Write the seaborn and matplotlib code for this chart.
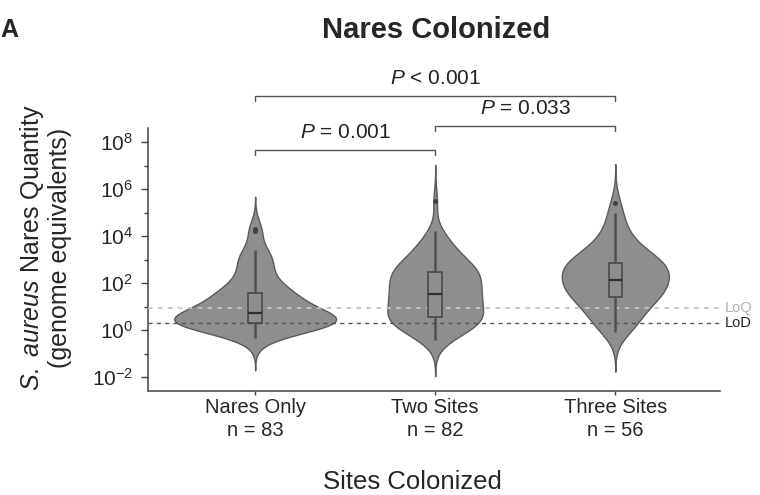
import numpy as np
import pandas as pd
import matplotlib
matplotlib.use("Agg")
import matplotlib.pyplot as plt
import matplotlib.transforms as mtransforms
import seaborn as sns

# log10 genome equivalents
nares_only = [-0.34, -0.25, -0.15, -0.05, 0.05, 0.1, 0.15, 0.18, 0.2, 0.22, 0.24,
              0.25, 0.26, 0.27, 0.28, 0.28, 0.29, 0.3, 0.3, 0.3, 0.3,
              0.31, 0.32, 0.33, 0.34, 0.35, 0.36, 0.38, 0.4, 0.42, 0.44, 0.47,
              0.5, 0.53, 0.56, 0.6, 0.63, 0.66, 0.68, 0.7, 0.72, 0.72,
              0.76, 0.8, 0.85, 0.9, 0.95, 1.0, 1.05, 1.1, 1.15, 1.2, 1.25,
              1.3, 1.35, 1.4, 1.45, 1.5, 1.53, 1.55, 1.57, 1.57, 1.58,
              1.7, 1.8, 1.9, 2.0, 2.1, 2.2, 2.3, 2.45, 2.55, 2.7,
              2.85, 2.95, 3.05, 3.15, 3.25, 3.35, 3.4, 4.2, 4.25, 4.3]
two_sites = [-0.43, -0.35, -0.25, -0.15, -0.08, 0.0, 0.06, 0.12, 0.18, 0.22, 0.26,
             0.3, 0.33, 0.36, 0.4, 0.43, 0.46, 0.49, 0.51, 0.53, 0.55,
             0.6, 0.66, 0.72, 0.78, 0.84, 0.9, 0.95, 1.0, 1.05, 1.1,
             1.15, 1.2, 1.25, 1.3, 1.34, 1.38, 1.42, 1.46, 1.5, 1.53,
             1.55, 1.6, 1.66, 1.72, 1.78, 1.84, 1.9, 1.95, 2.0, 2.05, 2.1,
             2.15, 2.2, 2.25, 2.3, 2.34, 2.38, 2.42, 2.45, 2.47, 2.5,
             2.52, 2.58, 2.64, 2.7, 2.76, 2.82, 2.88, 2.95, 3.02, 3.1,
             3.18, 3.26, 3.35, 3.45, 3.55, 3.7, 3.85, 4.0, 4.2, 5.5]
three_sites = [-0.1, 0.0, 0.15, 0.28, 0.4, 0.5, 0.62, 0.75, 0.88, 1.0, 1.1, 1.2, 1.3, 1.36,
               1.4, 1.45, 1.5, 1.56, 1.62, 1.68, 1.75, 1.82, 1.9, 1.97, 2.03, 2.07, 2.1, 2.1,
               2.14, 2.22, 2.3, 2.4, 2.5, 2.58, 2.65, 2.7, 2.74, 2.77, 2.8, 2.82, 2.84, 2.85,
               2.92, 3.0, 3.1, 3.2, 3.3, 3.42, 3.55, 3.7, 3.85, 4.0, 4.3, 4.6, 5.0, 5.4]

groups = ["Nares Only", "Two Sites", "Three Sites"]
tick_labels = ["Nares Only\nn = 83", "Two Sites\nn = 82", "Three Sites\nn = 56"]
loq, lod = 9.0, 2.0
comparisons = [(0, 2, "P < 0.001"), (1, 2, "P = 0.033"), (0, 1, "P = 0.001")]

df = pd.DataFrame({
    "group": [groups[0]] * len(nares_only) + [groups[1]] * len(two_sites) + [groups[2]] * len(three_sites),
    "quantity": 10 ** np.array(nares_only + two_sites + three_sites),
})

sns.set_style("ticks")
plt.rcParams["font.family"] = ["Liberation Sans", "DejaVu Sans"]
plt.rcParams["mathtext.fontset"] = "custom"
plt.rcParams["mathtext.it"] = "Liberation Sans:italic"
plt.rcParams["mathtext.rm"] = "Liberation Sans"
plt.rcParams["axes.unicode_minus"] = False

fig = plt.figure(figsize=(7.6, 4.95), dpi=100)
ax = fig.add_axes([0.195, 0.21, 0.752, 0.531])

fill = "#8e8e8e"
edge = "#5a5a5a"
sns.violinplot(data=df, x="group", y="quantity", order=groups, log_scale=True,
               inner=None, color=fill, linecolor=edge, linewidth=1.0, cut=3,
               width=0.9, saturation=1, ax=ax, zorder=2)

ax.axhline(loq, color="#c4c4c4", ls=(0, (2.5, 3)), lw=1.3, zorder=3)
ax.axhline(lod, color="#555555", ls=(0, (3, 3)), lw=1.0, zorder=3)

sns.boxplot(data=df, x="group", y="quantity", order=groups, log_scale=True,
            width=0.075, color=fill, linecolor="#444444", linewidth=1.1,
            saturation=1, showcaps=False, fliersize=2.5,
            whiskerprops={"linewidth": 1.8, "color": "#505050"},
            medianprops={"linewidth": 1.6, "color": "#303030"},
            flierprops={"marker": "o", "markerfacecolor": "#404040",
                        "markeredgecolor": "#404040"},
            ax=ax, zorder=4)

ax.set_yscale("log")
ax.set_ylim(10 ** -2.6, 10 ** 8.6)
ax.set_xlim(-0.594, 2.58)
ax.set_yticks([1e-2, 1e0, 1e2, 1e4, 1e6, 1e8])
ax.yaxis.set_minor_locator(matplotlib.ticker.FixedLocator([1e-1, 1e1, 1e3, 1e5, 1e7]))
ax.yaxis.set_minor_formatter(matplotlib.ticker.NullFormatter())
ax.set_xticks(range(3))
ax.set_xticklabels(tick_labels, fontsize=14.5, linespacing=1.3)
ax.tick_params(axis="y", labelsize=15, length=5, width=1, color="#444444", pad=6)
ax.tick_params(axis="y", which="minor", length=3, width=1, color="#444444")
ax.tick_params(axis="x", length=3, width=1, color="#444444", pad=2)
for side in ["left", "bottom"]:
    ax.spines[side].set_color("#444444")
    ax.spines[side].set_linewidth(1.1)
sns.despine(ax=ax)

ax.set_xlabel("Sites Colonized", fontsize=18.5)
ax.xaxis.set_label_coords(0.463, -0.345)
ax.xaxis.label.set_va("center")
ax.set_ylabel("$\\it{S.\\ aureus}$ Nares Quantity\n(genome equivalents)",
              fontsize=18, linespacing=1.1)
ax.yaxis.set_label_coords(-0.133, 0.545)

trans = mtransforms.blended_transform_factory(ax.transAxes, ax.transData)
ax.text(1.008, loq, "LoQ", transform=trans, color="#b0b0b0", fontsize=10.5, va="center")
ax.text(1.008, lod, "LoD", transform=trans, color="#222222", fontsize=10.5, va="center")

# significance brackets
btrans = mtransforms.blended_transform_factory(ax.transData, ax.transAxes)
levels = {"P < 0.001": 1.122, "P = 0.033": 1.008, "P = 0.001": 0.916}
for a, b, txt in comparisons:
    yb = levels[txt]
    ax.plot([a, a, b, b], [yb - 0.018, yb, yb, yb - 0.018], color="#555555", lw=1.0,
            transform=btrans, clip_on=False)
    label = txt.replace("P", "$\\it{P}$", 1)
    ax.text((a + b) / 2, yb + 0.03, label, transform=btrans, ha="center", va="bottom",
            fontsize=15, color="#222222")

fig.text(0.574, 0.94, "Nares Colonized", ha="center", va="center", fontsize=21,
         fontweight="bold")
fig.text(0.0, 0.94, "A", ha="left", va="center", fontsize=18, fontweight="bold")

fig.savefig("out.png", dpi=100)
